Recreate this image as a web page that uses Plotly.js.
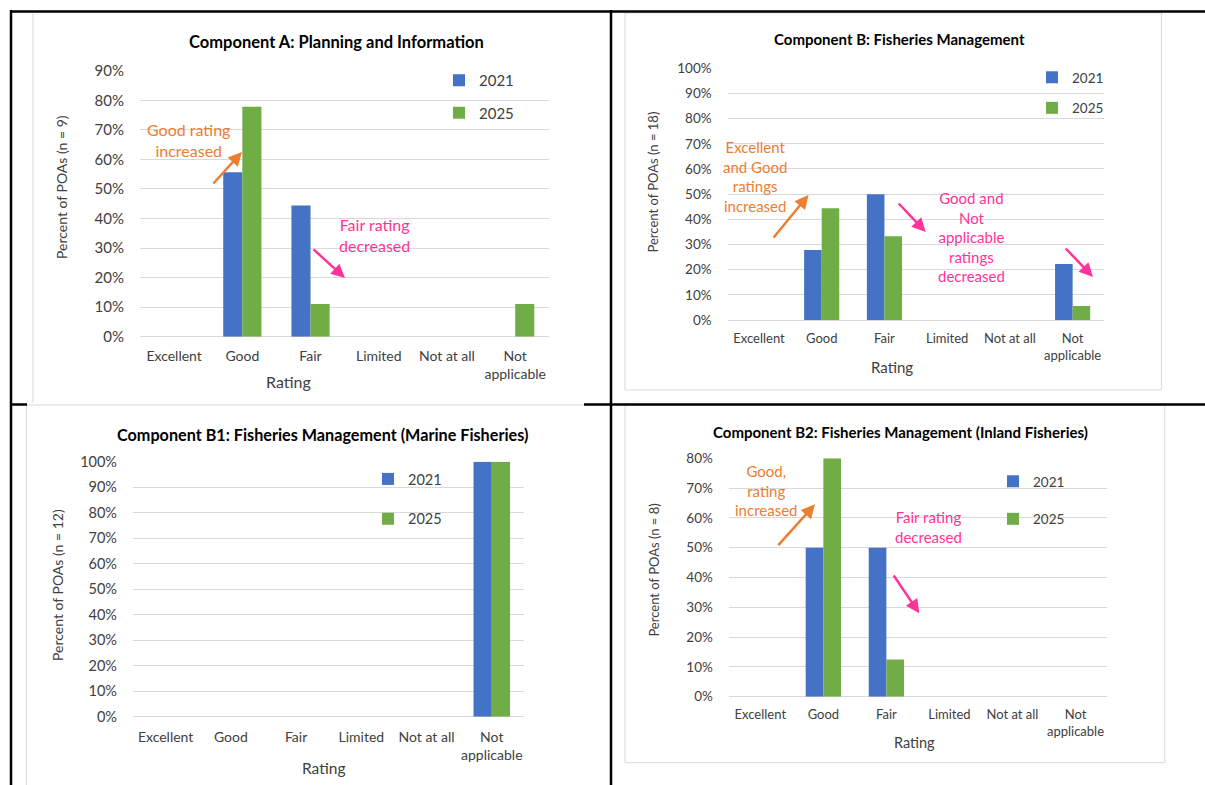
<!DOCTYPE html>
<html>
<head>
<meta charset="utf-8">
<script src="https://cdn.plot.ly/plotly-3.0.1.min.js"></script>
<style>
  html, body { margin: 0; padding: 0; background: #ffffff; }
  #chart { width: 1205px; height: 785px; }
</style>
</head>
<body>
<div id="chart"></div>
<script>
// Rating categories shared by every panel
const ratings = ['Excellent', 'Good', 'Fair', 'Limited', 'Not at all', 'Not applicable'];
const ratingLabels = ['Excellent', 'Good', 'Fair', 'Limited', 'Not at all', 'Not<br>applicable'];
const years = ['2021', '2025'];

// Percent of POAs in each rating
const compA2021 = [0, 55.6, 44.4, 0, 0, 0];
const compA2025 = [0, 77.8, 11.1, 0, 0, 11.1];
const compB2021 = [0, 27.8, 50.0, 0, 0, 22.2];
const compB2025 = [0, 44.4, 33.3, 0, 0, 5.6];
const compB1_2021 = [0, 0, 0, 0, 0, 100];
const compB1_2025 = [0, 0, 0, 0, 0, 100];
const compB2_2021 = [0, 50.0, 50.0, 0, 0, 0];
const compB2_2025 = [0, 80.0, 12.5, 0, 0, 0];

const titles = [
  'Component A: Planning and Information',
  'Component B: Fisheries Management',
  'Component B1: Fisheries Management (Marine Fisheries)',
  'Component B2: Fisheries Management (Inland Fisheries)'
];
const sampleSizes = [9, 18, 12, 8];
const axisMax = [90, 100, 100, 80];

// ---- page geometry (pixels) ----
const W = 1205, H = 785;
const px = v => v / W;
const py = v => 1 - v / H;

const BLUE = '#4472C4', GREEN = '#70AD47', ORANGE = '#ED7D31', PINK = '#FF3399';
const GRID = '#D9D9D9', TEXT = '#404040';
const FONT = 'Lato, "Open Sans", sans-serif';

// per-panel layout: plot box, font sizes, legend and label placement
const panels = [
  { id: '', plot: [140, 549.3, 70.7, 336.7], tick: 15, cat: 14, xt: 16, yt: 14, leg: 15, ttl: 16.5, xstand: 9,
    title: [336.5, 42], rating: [288.6, 381], ytitle: [62, 187], legend: [439, 64], legGap: 10,
    ys: [compA2021, compA2025] },
  { id: '2', plot: [727.6, 1104, 68.3, 320], tick: 13.5, cat: 13, xt: 15, yt: 13, leg: 13.5, ttl: 15,
    xstand: 9, title: [899, 39.5], rating: [891.6, 367], ytitle: [652.5, 182], legend: [1032, 62], legGap: 10,
    ys: [compB2021, compB2025] },
  { id: '3', plot: [133, 524.4, 461.7, 716.7], tick: 14.5, cat: 14, xt: 15.5, yt: 14, leg: 14.5, ttl: 16.2,
    xstand: 10, title: [322, 434], rating: [323, 768], ytitle: [57, 585], legend: [368, 463], legGap: 18,
    ys: [compB1_2021, compB1_2025] },
  { id: '4', plot: [728.8, 1107, 458.3, 696.7], tick: 13.5, cat: 13, xt: 14.5, yt: 13, leg: 13.5, ttl: 15,
    xstand: 8, title: [900, 432], rating: [914.7, 742], ytitle: [653.6, 570], legend: [993, 466], legGap: 17,
    ys: [compB2_2021, compB2_2025] }
];

const data = [];
const layout = {
  width: W, height: H,
  margin: { l: 0, r: 0, t: 0, b: 0 },
  paper_bgcolor: '#ffffff',
  plot_bgcolor: 'rgba(0,0,0,0)',
  barmode: 'group',
  bargap: 0.44,
  bargroupgap: 0,
  font: { family: FONT, color: TEXT },
  annotations: [],
  shapes: []
};

panels.forEach((p, i) => {
  const xa = 'xaxis' + p.id, ya = 'yaxis' + p.id;
  const xr = 'x' + p.id, yr = 'y' + p.id;
  const legName = 'legend' + p.id;

  layout[xa] = {
    domain: [px(p.plot[0]), px(p.plot[1])],
    anchor: yr,
    type: 'category',
    categoryorder: 'array',
    categoryarray: ratings,
    tickvals: ratings,
    ticktext: ratingLabels,
    showgrid: false, showline: false, zeroline: false,
    ticks: '', ticklabelstandoff: p.xstand,
    tickfont: { size: p.cat, color: TEXT, family: FONT },
    fixedrange: true
  };
  layout[ya] = {
    domain: [py(p.plot[3]), py(p.plot[2])],
    anchor: xr,
    range: [0, axisMax[i]],
    dtick: 10,
    ticksuffix: '%',
    showgrid: true, gridcolor: GRID, gridwidth: 1,
    zeroline: true, zerolinecolor: GRID, zerolinewidth: 1,
    showline: false, ticks: '', ticklabelstandoff: 15,
    tickfont: { size: p.tick, color: TEXT, family: FONT },
    fixedrange: true
  };

  [BLUE, GREEN].forEach((c, k) => {
    data.push({
      type: 'bar',
      x: ratings,
      y: p.ys[k],
      name: years[k],
      xaxis: xr, yaxis: yr,
      legend: legName,
      legendgroup: 'g' + i + '_' + k,
      marker: { color: c, line: { width: 0 } },
      hoverinfo: 'x+y+name'
    });
  });

  layout[legName] = {
    x: px(p.legend[0]), y: py(p.legend[1]),
    xanchor: 'left', yanchor: 'top',
    xref: 'paper', yref: 'paper',
    bgcolor: 'rgba(0,0,0,0)', borderwidth: 0,
    traceorder: 'grouped', tracegroupgap: p.legGap,
    font: { size: p.leg, color: TEXT, family: FONT }
  };

  // chart title
  layout.annotations.push({
    text: titles[i], xref: 'paper', yref: 'paper',
    x: px(p.title[0]), y: py(p.title[1]), xanchor: 'center', yanchor: 'middle',
    showarrow: false, font: { size: p.ttl, color: '#000000', family: FONT, weight: 'bold' }
  });
  // x axis title
  layout.annotations.push({
    text: 'Rating', xref: 'paper', yref: 'paper',
    x: px(p.rating[0]), y: py(p.rating[1]), xanchor: 'center', yanchor: 'middle',
    showarrow: false, font: { size: p.xt, color: TEXT, family: FONT }
  });
  // y axis title
  layout.annotations.push({
    text: 'Percent of POAs (n = ' + sampleSizes[i] + ')', xref: 'paper', yref: 'paper',
    x: px(p.ytitle[0]), y: py(p.ytitle[1]), xanchor: 'center', yanchor: 'middle',
    textangle: -90, showarrow: false, font: { size: p.yt, color: TEXT, family: FONT }
  });
});

// call-out notes and their arrows
function note(text, cx, cy, color, size) {
  layout.annotations.push({
    text: text, xref: 'paper', yref: 'paper', x: px(cx), y: py(cy),
    xanchor: 'center', yanchor: 'middle', align: 'center', showarrow: false,
    font: { size: size, color: color, family: FONT }
  });
}
function arrow(tx, ty, hx, hy, color) {
  layout.annotations.push({
    text: '', xref: 'paper', yref: 'paper', x: px(hx), y: py(hy),
    ax: tx - hx, ay: ty - hy, showarrow: true,
    arrowhead: 2, arrowsize: 1.1, arrowwidth: 2.5, arrowcolor: color,
    standoff: 0, startstandoff: 0
  });
}

note('Good rating<br>increased', 188, 140.5, ORANGE, 16);
arrow(212, 185, 242, 152, ORANGE);
note('Fair rating<br>decreased', 374.6, 234.5, PINK, 16);
arrow(312, 248, 345, 278, PINK);

note('Excellent<br>and Good<br>ratings<br>increased', 755, 176.5, ORANGE, 15);
arrow(772.4, 239, 808.5, 195, ORANGE);
note('Good and<br>Not<br>applicable<br>ratings<br>decreased', 971.7, 236.5, PINK, 15);
arrow(897.3, 202, 925.7, 232, PINK);
arrow(1064.3, 247, 1093, 277, PINK);

note('Good,<br>rating<br>increased', 765.6, 490.5, ORANGE, 15);
arrow(777, 546.7, 815, 504.3, ORANGE);
note('Fair rating<br>decreased', 928.8, 527, PINK, 15);
arrow(892.7, 574, 919.3, 613.3, PINK);

// chart frames (light grey) and table rules (black)
function line(x0, y0, x1, y1, color, w, layer) {
  layout.shapes.push({
    type: 'line', xref: 'paper', yref: 'paper',
    x0: px(x0), y0: py(y0), x1: px(x1), y1: py(y1),
    line: { color: color, width: w }, layer: layer
  });
}
function frame(x0, y0, x1, y1) {
  layout.shapes.push({
    type: 'rect', xref: 'paper', yref: 'paper',
    x0: px(x0), y0: py(y0), x1: px(x1), y1: py(y1),
    line: { color: GRID, width: 1 }, fillcolor: 'rgba(0,0,0,0)', layer: 'below'
  });
}
line(33, 13, 33, 403, GRID, 1, 'below');
frame(625, 13, 1161.4, 390);
line(26.5, 405, 26.5, 785, GRID, 1, 'below');
line(26.5, 405, 584, 405, GRID, 1, 'below');
frame(625, 405, 1164.8, 762.7);

line(10, 11.5, 1205, 11.5, '#000000', 2.5, 'above');
line(11, 10, 11, 785, '#000000', 2.5, 'above');
line(611, 10, 611, 785, '#000000', 2.5, 'above');
line(10, 404.5, 27, 404.5, '#000000', 2.5, 'above');
line(584, 404.5, 1205, 404.5, '#000000', 2.5, 'above');

Plotly.newPlot('chart', data, layout, { displayModeBar: false, responsive: false });
</script>
</body>
</html>
